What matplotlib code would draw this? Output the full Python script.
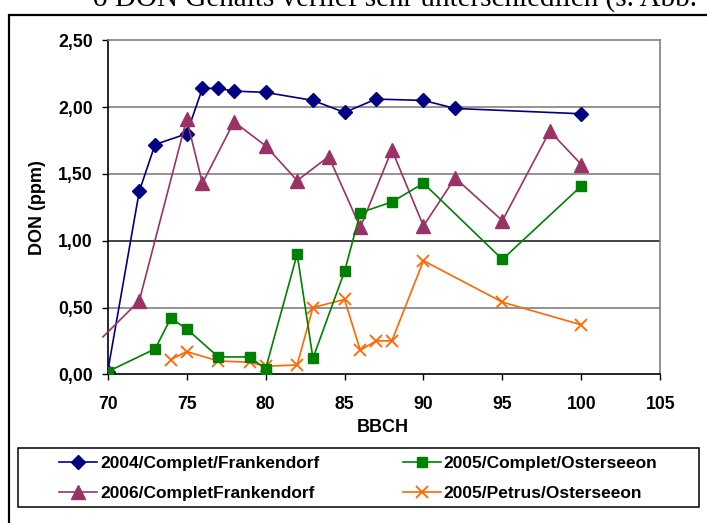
import matplotlib
matplotlib.use("Agg")
import matplotlib.pyplot as plt
from matplotlib.patches import Rectangle


# --------------------------------
# Data
# --------------------------------

bbch_2004 = [70, 72, 73, 75, 76, 77, 78, 80, 83, 85, 87, 90, 92, 100]
don_2004 = [0.02, 1.37, 1.72, 1.80, 2.14, 2.14, 2.12, 2.11, 2.05, 1.96, 2.06, 2.05, 1.99, 1.95]

bbch_2006 = [69.7, 72, 75, 76, 78, 80, 82, 84, 86, 88, 90, 92, 95, 98, 100]
don_2006 = [0.28, 0.55, 1.91, 1.43, 1.89, 1.71, 1.45, 1.63, 1.10, 1.68, 1.11, 1.47, 1.15, 1.82, 1.57]

bbch_2005c = [70, 73, 74, 75, 77, 79, 80, 82, 83, 85, 86, 88, 90, 95, 100]
don_2005c = [0.02, 0.19, 0.42, 0.34, 0.13, 0.13, 0.04, 0.90, 0.12, 0.77, 1.21, 1.29, 1.43, 0.86, 1.41]

bbch_2005p = [74, 75, 77, 79, 80, 82, 83, 85, 86, 87, 88, 90, 95, 100]
don_2005p = [0.11, 0.17, 0.10, 0.09, 0.06, 0.07, 0.50, 0.56, 0.18, 0.25, 0.25, 0.85, 0.54, 0.37]

labels = [
    "2004/Complet/Frankendorf",
    "2006/CompletFrankendorf",
    "2005/Complet/Osterseeon",
    "2005/Petrus/Osterseeon",
]

x_ticks = [70, 75, 80, 85, 90, 95, 100, 105]
y_ticks = [0, 0.5, 1.0, 1.5, 2.0, 2.5]
y_tick_labels = ["0,00", "0,50", "1,00", "1,50", "2,00", "2,50"]
grid_levels = [0.5, 1.0, 1.5, 2.0]


# --------------------------------
# Figure
# --------------------------------

plt.rcParams["font.family"] = ["Liberation Sans", "DejaVu Sans"]
plt.rcParams["font.weight"] = "bold"

W, H = 707, 523
fig = plt.figure(figsize=(W / 100, H / 100), dpi=100)

# surrounding document text, cut off at the top like in the source
fig.text(93 / W, 1 - 6.5 / H, "o DON Gehalts verlief sehr unterschiedlich (s. Abb.",
         family=["Liberation Serif", "DejaVu Serif"], fontweight="normal",
         fontsize=21, va="baseline", ha="left")

# outer frame
fig.patches.append(Rectangle((9 / W, -0.1), 1.2, 1 - 15 / H + 0.1,
                             transform=fig.transFigure, fill=False,
                             edgecolor="black", linewidth=1.6))

ax = fig.add_axes([107.7 / W, 1 - 374.3 / H, (660.3 - 107.7) / W, (374.3 - 40.3) / H])

for y in grid_levels:
    ax.axhline(y, color="#222222" if y == 1.0 else "#808080", linewidth=1.2, zorder=1)

ax.plot(bbch_2004, don_2004, color="#000080", linewidth=1.2, marker="D",
        markersize=7.5, label=labels[0], zorder=3)
ax.plot(bbch_2006, don_2006, color="#993366", linewidth=1.2, marker="^",
        markersize=9.5, markevery=list(range(1, len(bbch_2006))),
        label=labels[1], zorder=3, clip_on=False)
ax.plot(bbch_2005c, don_2005c, color="#008000", linewidth=1.2, marker="s",
        markersize=7.5, label=labels[2], zorder=4)
ax.plot(bbch_2005p, don_2005p, color="#FF6600", linewidth=1.2, marker="x",
        markersize=9, markeredgewidth=1.3, label=labels[3], zorder=3)

ax.set_xlim(70, 105)
ax.set_ylim(0, 2.5)
ax.set_xticks(x_ticks)
ax.set_yticks(y_ticks)
ax.set_yticklabels(y_tick_labels)

ax.tick_params(axis="both", labelsize=12.7, width=1, color="black")
ax.tick_params(axis="x", direction="out", length=4, pad=11.5)
ax.tick_params(axis="y", direction="out", length=4.3, pad=6.5)

ax.spines["left"].set_color("black")
ax.spines["bottom"].set_color("black")
ax.spines["top"].set_color("#808080")
ax.spines["right"].set_color("#808080")
for s in ax.spines.values():
    s.set_linewidth(1.2)

ax.set_ylabel("DON (ppm)", fontsize=13, fontweight="bold")
ax.yaxis.set_label_coords((45.7 - 107.7) / 552.6, 0.498)
ax.set_xlabel("BBCH", fontsize=13, fontweight="bold")
ax.xaxis.set_label_coords(0.498, (374.3 - 419) / 334)

# legend frame drawn by hand, entries placed inside it
fig.patches.append(Rectangle((17.7 / W, 1 - 506.7 / H), 681 / W, 58.4 / H,
                             transform=fig.transFigure, fill=False,
                             edgecolor="black", linewidth=1.1))

handles, _ = ax.get_legend_handles_labels()
leg = fig.legend(handles, labels,
                 loc="upper left", bbox_to_anchor=(59 / W, 1 - 455.5 / H),
                 ncol=2, fontsize=12.5, frameon=False,
                 handlelength=2.19, handletextpad=0.17,
                 columnspacing=4.8, borderpad=0, labelspacing=0.87,
                 borderaxespad=0)

fig.savefig("out.png", dpi=100)
